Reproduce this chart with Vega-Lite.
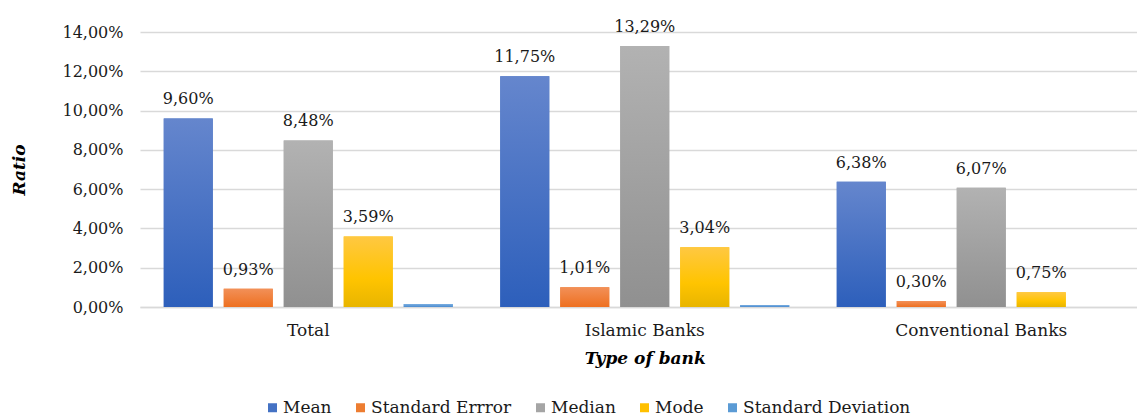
{
  "$schema": "https://vega.github.io/schema/vega-lite/v6.json",
  "width": 997,
  "height": 275,
  "autosize": "none",
  "padding": {"left": 140, "top": 32, "right": 0, "bottom": 109},
  "background": "white",
  "config": {
    "locale": {"number": {"decimal": ",", "thousands": ".", "grouping": [3], "currency": ["", " €"]}},
    "font": "DejaVu Serif",
    "view": {"stroke": null}
  },
  "data": {
    "values": [
      {"bank": "Total", "stat": "Mean", "value": 0.0960},
      {"bank": "Total", "stat": "Standard Errror", "value": 0.0093},
      {"bank": "Total", "stat": "Median", "value": 0.0848},
      {"bank": "Total", "stat": "Mode", "value": 0.0359},
      {"bank": "Total", "stat": "Standard Deviation", "value": 0.0015},
      {"bank": "Islamic Banks", "stat": "Mean", "value": 0.1175},
      {"bank": "Islamic Banks", "stat": "Standard Errror", "value": 0.0101},
      {"bank": "Islamic Banks", "stat": "Median", "value": 0.1329},
      {"bank": "Islamic Banks", "stat": "Mode", "value": 0.0304},
      {"bank": "Islamic Banks", "stat": "Standard Deviation", "value": 0.0010},
      {"bank": "Conventional Banks", "stat": "Mean", "value": 0.0638},
      {"bank": "Conventional Banks", "stat": "Standard Errror", "value": 0.0030},
      {"bank": "Conventional Banks", "stat": "Median", "value": 0.0607},
      {"bank": "Conventional Banks", "stat": "Mode", "value": 0.0075},
      {"bank": "Conventional Banks", "stat": "Standard Deviation", "value": 0}
    ]
  },
  "encoding": {
    "x": {
      "field": "bank", "type": "nominal", "sort": null,
      "scale": {"paddingInner": 0, "paddingOuter": 0, "range": [0, 1009.5]},
      "axis": {
        "title": "Type of bank", "titleFontSize": 17, "titleFontStyle": "italic", "titleFontWeight": "bold",
        "titleColor": "black", "titlePadding": 12,
        "labelAngle": 0, "labelFontSize": 17, "labelColor": "#1a1a1a", "labelPadding": 15,
        "domainColor": "#d9d9d9", "domainWidth": 1.5, "ticks": false
      }
    },
    "xOffset": {
      "field": "stat", "type": "nominal",
      "sort": ["Mean", "Standard Errror", "Median", "Mode", "Standard Deviation"],
      "scale": {"paddingInner": 0.183, "paddingOuter": 0.396}
    },
    "y": {
      "field": "value", "type": "quantitative",
      "scale": {"domain": [0, 0.14]},
      "axis": {
        "title": "Ratio", "titleFontSize": 17, "titleFontStyle": "italic", "titleFontWeight": "bold",
        "titleColor": "black", "titlePadding": 33,
        "format": ".2%", "values": [0, 0.02, 0.04, 0.06, 0.08, 0.1, 0.12, 0.14],
        "labelFontSize": 16, "labelColor": "#1a1a1a", "labelPadding": 17, "labelOverlap": false,
        "domain": false, "ticks": false,
        "gridColor": "#d9d9d9", "gridWidth": 1.5
      }
    }
  },
  "layer": [
    {
      "mark": {"type": "bar"},
      "encoding": {
        "color": {
          "field": "stat", "type": "nominal",
          "sort": ["Mean", "Standard Errror", "Median", "Mode", "Standard Deviation"],
          "scale": {"domain": ["Mean", "Standard Errror", "Median", "Mode", "Standard Deviation"],
                    "range": ["#4472c4", "#ed7d31", "#a5a5a5", "#ffc000", "#5b9bd5"]},
          "legend": {
            "title": null, "orient": "none", "direction": "horizontal",
            "legendX": 124, "legendY": 367,
            "symbolType": "square", "symbolSize": 81, "symbolStrokeWidth": 0,
            "labelFontSize": 17, "labelColor": "#1a1a1a", "labelOffset": 2, "labelLimit": 300,
            "columnPadding": 20
          }
        }
      }
    },
    {
      "transform": [{"filter": "datum.stat === 'Mean'"}],
      "mark": {"type": "bar", "fill": {"gradient": "linear", "x1": 0, "y1": 0, "x2": 0, "y2": 1,
        "stops": [{"offset": 0, "color": "#6586cd"}, {"offset": 1, "color": "#2d5fbb"}]}},
      "encoding": {}
    },
    {
      "transform": [{"filter": "datum.stat === 'Standard Errror'"}],
      "mark": {"type": "bar", "fill": {"gradient": "linear", "x1": 0, "y1": 0, "x2": 0, "y2": 1,
        "stops": [{"offset": 0, "color": "#f29058"}, {"offset": 1, "color": "#ee7020"}]}},
      "encoding": {}
    },
    {
      "transform": [{"filter": "datum.stat === 'Median'"}],
      "mark": {"type": "bar", "fill": {"gradient": "linear", "x1": 0, "y1": 0, "x2": 0, "y2": 1,
        "stops": [{"offset": 0, "color": "#b2b2b2"}, {"offset": 1, "color": "#909090"}]}},
      "encoding": {}
    },
    {
      "transform": [{"filter": "datum.stat === 'Mode'"}],
      "mark": {"type": "bar", "fill": {"gradient": "linear", "x1": 0, "y1": 0, "x2": 0, "y2": 1,
        "stops": [{"offset": 0, "color": "#ffc842"}, {"offset": 0.6, "color": "#ffc400"}, {"offset": 1, "color": "#e8b500"}]}},
      "encoding": {}
    },
    {
      "transform": [{"filter": "datum.stat === 'Standard Deviation'"}],
      "mark": {"type": "bar", "fill": {"gradient": "linear", "x1": 0, "y1": 0, "x2": 0, "y2": 1,
        "stops": [{"offset": 0, "color": "#7aaee0"}, {"offset": 1, "color": "#4a8bd0"}]}},
      "encoding": {}
    },
    {
      "transform": [{"filter": "datum.stat !== 'Standard Deviation'"}],
      "mark": {"type": "text", "baseline": "bottom", "dy": -11, "fontSize": 16, "color": "#1a1a1a"},
      "encoding": {
        "text": {"field": "value", "type": "quantitative", "format": ".2%"}
      }
    }
  ]
}
